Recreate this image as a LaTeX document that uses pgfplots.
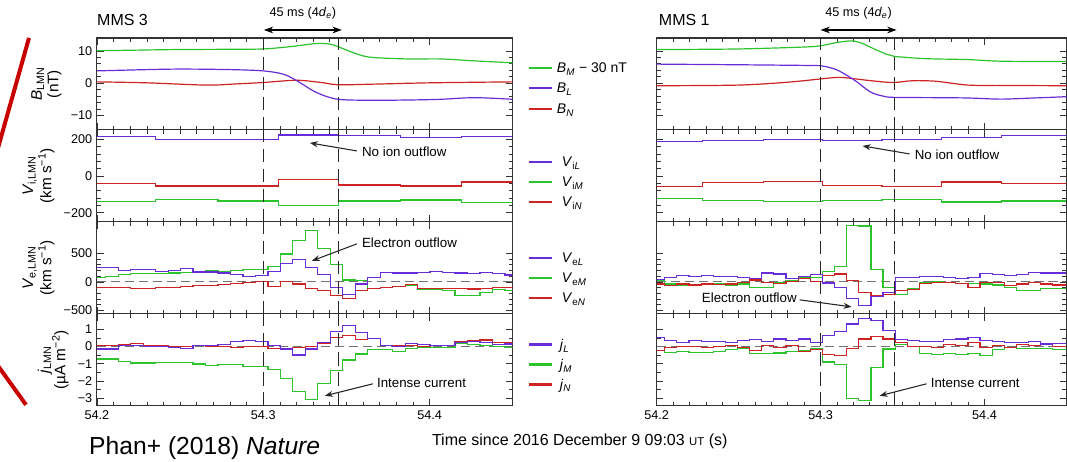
\documentclass[border=0pt]{standalone}
\usepackage{fontspec}
\setmainfont{Liberation Sans}
\usepackage{pgfplots}
\usepackage{pgfplotstable}
\pgfplotsset{compat=1.18}
\usetikzlibrary{arrows.meta}

\definecolor{cG}{RGB}{45,195,45}
\definecolor{cP}{RGB}{105,45,215}
\definecolor{cR}{RGB}{205,35,35}
\definecolor{cA}{RGB}{200,0,0}

\pgfplotstableread{
t L M N
54.2 214 -140 -40
54.2354 196 -127 -55
54.2728 200 -136 -55
54.3091 223 -160 -18
54.3454 218 -136 -49
54.3827 207 -131 -55
54.4191 214 -145 -33
54.45 214 -145 -33
}\LVi

\pgfplotstableread{
t L M N
54.2 185 -124 -58
54.228 191 -134 -36
54.265 200 -140 -31
54.301 194 -134 -51
54.3375 200 -127 -58
54.374 209 -142 -33
54.4105 218 -136 -40
54.45 218 -136 -40
}\RVi

\pgfplotstableread{
t L M N
54.2000 255 70 -94
54.2053 255 90 -94
54.2128 200 128 -94
54.2203 211 144 -122
54.2278 222 144 -122
54.2353 183 144 -105
54.2428 200 155 -94
54.2503 239 166 -83
54.2578 172 183 -67
54.2653 172 200 -67
54.2728 155 183 -50
54.2803 128 200 -28
54.2878 89 222 -11
54.2953 111 222 0
54.3028 183 266 -83
54.3103 322 488 0
54.3178 388 722 -39
54.3253 255 905 -122
54.3328 128 588 -150
54.3403 -94 311 -233
54.3478 -222 33 -289
54.3553 -39 17 -150
54.3628 72 -111 -122
54.3703 166 -105 -105
54.3778 155 -83 -83
54.3853 155 -67 -44
54.3928 166 -133 -120
54.4003 183 -133 -120
54.4078 166 -150 -110
54.4153 155 -233 -120
54.4228 144 -233 -125
54.4303 166 -189 -120
54.4378 150 -139 -100
54.4453 120 -150 -100
54.45 120 -150 -100
}\LVe

\pgfplotstableread{
t L M N
54.2000 -0.15 -0.73 0.08
54.2053 -0.15 -0.73 0.08
54.2128 0.04 -0.88 0.10
54.2203 0.08 -0.96 0.17
54.2278 -0.02 -0.96 0.08
54.2353 -0.02 -0.92 0.04
54.2428 -0.05 -0.92 0.00
54.2503 -0.12 -0.92 0.00
54.2578 0.08 -1.02 0.04
54.2653 0.04 -1.12 -0.02
54.2728 0.13 -1.06 -0.02
54.2803 0.27 -1.06 -0.06
54.2878 0.37 -1.15 0.00
54.2953 0.27 -1.15 0.00
54.3028 0.04 -1.35 -0.12
54.3103 -0.15 -1.85 -0.19
54.3178 -0.50 -2.62 -0.06
54.3253 -0.15 -3.08 0.00
54.3328 0.23 -2.13 0.19
54.3403 0.85 -1.40 0.52
54.3478 1.23 -0.79 0.65
54.3553 0.81 -0.44 0.42
54.3628 0.46 -0.19 0.46
54.3703 0.04 -0.19 0.04
54.3778 0.00 -0.31 0.04
54.3853 0.17 -0.12 0.04
54.3928 0.13 -0.08 0.00
54.4003 0.04 -0.05 0.04
54.4078 0.08 -0.05 0.08
54.4153 0.23 0.19 0.27
54.4228 0.27 0.13 0.33
54.4303 0.23 0.08 0.38
54.4378 0.12 0.00 0.23
54.4453 0.15 -0.05 0.20
54.45 0.15 -0.05 0.20
}\Lj

\pgfplotstableread{
t L M N
54.2000 44 17 -39
54.2049 72 -39 -67
54.2123 111 -55 -39
54.2197 89 -44 -55
54.2271 111 -22 -39
54.2345 100 -39 -50
54.2419 89 -55 -39
54.2493 72 -39 -11
54.2567 55 -94 33
54.2641 155 -94 -11
54.2715 139 -11 -22
54.2789 55 17 0
54.2863 100 72 55
54.2937 128 72 0
54.3011 -20 183 111
54.3085 -94 266 139
54.3159 -289 988 17
54.3233 -411 977 -189
54.3307 -250 222 -244
54.3381 -180 -94 -222
54.3455 72 -222 -150
54.3529 72 -122 -133
54.3603 89 -11 -22
54.3677 89 0 -11
54.3751 72 -11 -11
54.3825 55 -22 -28
54.3899 72 -22 -94
54.3973 144 -39 -11
54.4047 128 -55 -11
54.4121 111 -94 -67
54.4195 128 -150 -39
54.4269 166 -150 -11
54.4343 155 -122 -39
54.4417 155 -111 -55
54.45 155 -111 -55
}\RVe

\pgfplotstableread{
t L M N
54.2000 0.54 -0.23 -0.23
54.2049 0.35 -0.33 -0.04
54.2123 0.25 -0.29 0.00
54.2197 0.35 -0.33 0.02
54.2271 0.29 -0.33 -0.04
54.2345 0.29 -0.29 0.02
54.2419 0.25 -0.17 0.06
54.2493 0.35 -0.13 -0.04
54.2567 0.40 -0.42 -0.23
54.2641 0.29 -0.42 0.06
54.2715 0.44 -0.38 -0.04
54.2789 0.35 -0.29 0.06
54.2863 0.44 -0.23 -0.29
54.2937 0.21 -0.13 -0.17
54.3011 0.63 -0.90 -0.48
54.3085 0.87 -1.06 -0.52
54.3159 1.31 -3.02 -0.10
54.3233 1.65 -3.12 0.44
54.3307 1.50 -1.20 0.60
54.3381 0.92 -0.15 0.44
54.3455 0.40 0.10 0.25
54.3529 0.35 0.00 0.00
54.3603 0.29 -0.42 0.00
54.3677 0.29 -0.48 -0.04
54.3751 0.40 -0.42 0.10
54.3825 0.44 -0.48 0.06
54.3899 0.54 -0.42 0.21
54.3973 0.35 -0.52 -0.04
54.4047 0.29 -0.17 0.06
54.4121 0.25 -0.04 -0.04
54.4195 0.25 -0.10 0.10
54.4269 0.29 -0.13 0.06
54.4343 0.15 -0.10 0.10
54.4417 0.19 -0.17 0.00
54.45 0.19 -0.17 0.00
}\Rj

\pgfplotsset{
  panel/.style={
    scale only axis, height=69pt,
    xmin=54.2, xmax=54.45,
    xtick={54.2,54.3,54.4}, minor x tick num=9,
    xticklabels={},
    tick pos=both, tick align=inside,
    major tick length=5pt, minor tick length=3pt,
    axis line style={black!80, line width=0.8pt},
    every tick/.append style={black!80, line width=0.5pt},
    every minor tick/.append style={black!80, line width=0.5pt},
    tick label style={font=\fontsize{9.5}{10}\selectfont},
    ylabel style={align=center, font=\fontsize{11.5}{12.5}\selectfont},
    every axis plot/.append style={line width=0.9pt},
  },
  Lcol/.style={panel, width=312pt},
  Rcol/.style={panel, width=307.5pt, yticklabels={}},
  vdash/.style={black!85, dash pattern=on 10pt off 5pt, line width=0.7pt},
  zdash/.style={black!55, dash pattern=on 7pt off 3.5pt, line width=0.8pt},
}

\begin{document}
\begin{tikzpicture}
\path (0,0) rectangle (800.25pt,346.5pt);

% ---------------- LEFT COLUMN (MMS 3) ----------------
\begin{axis}[Lcol, at={(72.75pt,318pt)}, anchor=north west,
  ymin=-14.5, ymax=14, ytick={-10,0,10}, yticklabels={−10,0,10}, minor y tick num=4,
  ylabel={\textit{B}\textsubscript{LMN}\\(nT)}]
\addplot[cG, smooth] coordinates {(54.2,10.05) (54.22,10.2) (54.2455,10.4) (54.28,10.5) (54.3,10.6) (54.316,11.3) (54.332,12.3) (54.34,12.1) (54.345,11.3) (54.356,9.1) (54.365,8.0) (54.387,7.5) (54.407,7.5) (54.427,6.9) (54.45,6.3)};
\addplot[cR, smooth] coordinates {(54.2,0.4) (54.23,0.1) (54.266,-0.6) (54.285,-0.2) (54.3,0.2) (54.32,0.9) (54.335,0.2) (54.345,-0.5) (54.367,-0.3) (54.4,0.1) (54.45,0.4)};
\addplot[cP, smooth] coordinates {(54.2,3.8) (54.2455,4.35) (54.28,4.2) (54.3,3.8) (54.312,2.8) (54.32,0.8) (54.332,-2.9) (54.345,-5.0) (54.367,-5.3) (54.39,-5.2) (54.407,-5.0) (54.427,-4.5) (54.45,-5.0)};
\addplot[vdash] coordinates {(54.3,-14.5) (54.3,14)};
\addplot[vdash] coordinates {(54.345,-14.5) (54.345,14)};
\end{axis}

\begin{axis}[Lcol, at={(72.75pt,249pt)}, anchor=north west,
  ymin=-250, ymax=250, ytick={-200,0,200}, yticklabels={−200,0,200}, minor y tick num=4,
  ylabel={\textit{V}\textsubscript{i,LMN}\\(km s\textsuperscript{−1})}]
\addplot[cG, const plot mark left] table[x=t,y=M] {\LVi};
\addplot[cR, const plot mark left] table[x=t,y=N] {\LVi};
\addplot[cP, const plot mark left] table[x=t,y=L] {\LVi};
\addplot[vdash] coordinates {(54.3,-250) (54.3,250)};
\addplot[vdash] coordinates {(54.345,-250) (54.345,250)};
\end{axis}

\begin{axis}[Lcol, at={(72.75pt,180pt)}, anchor=north west,
  ymin=-560, ymax=1050, ytick={-500,0,500}, yticklabels={−500,0,500}, minor y tick num=4,
  ylabel={\textit{V}\textsubscript{e,LMN}\\(km s\textsuperscript{−1})}]
\addplot[zdash] coordinates {(54.2,0) (54.45,0)};
\addplot[cG, const plot mark left] table[x=t,y=M] {\LVe};
\addplot[cR, const plot mark left] table[x=t,y=N] {\LVe};
\addplot[cP, const plot mark left] table[x=t,y=L] {\LVe};
\addplot[vdash] coordinates {(54.3,-560) (54.3,1050)};
\addplot[vdash] coordinates {(54.345,-560) (54.345,1050)};
\end{axis}

\begin{axis}[Lcol, at={(72.75pt,111pt)}, anchor=north west,
  ymin=-3.45, ymax=1.9, ytick={-3,-2,-1,0,1}, yticklabels={−3,−2,−1,0,1}, minor y tick num=1,
  xticklabels={54.2,54.3,54.4},
  ylabel={\textit{j}\textsubscript{LMN}\\(µA m\textsuperscript{−2})}]
\addplot[zdash] coordinates {(54.2,0) (54.45,0)};
\addplot[cG, const plot mark left] table[x=t,y=M] {\Lj};
\addplot[cR, const plot mark left] table[x=t,y=N] {\Lj};
\addplot[cP, const plot mark left] table[x=t,y=L] {\Lj};
\addplot[vdash] coordinates {(54.3,-3.45) (54.3,1.9)};
\addplot[vdash] coordinates {(54.345,-3.45) (54.345,1.9)};
\end{axis}

% ---------------- RIGHT COLUMN (MMS 1) ----------------
\begin{axis}[Rcol, at={(492.75pt,318pt)}, anchor=north west,
  ymin=-14.5, ymax=14, ytick={-10,0,10}, minor y tick num=4]
\addplot[cG, smooth] coordinates {(54.2,10.4) (54.25,10.6) (54.29,11.2) (54.3,11.6) (54.31,12.6) (54.319,13.1) (54.325,12.4) (54.331,11.0) (54.34,9.0) (54.345,8.3) (54.36,7.7) (54.37,7.5) (54.39,7.3) (54.41,6.8) (54.445,6.7) (54.45,6.7)};
\addplot[cR, smooth] coordinates {(54.2,-0.8) (54.25,-0.6) (54.28,0.3) (54.3,1.3) (54.311,1.8) (54.32,1.4) (54.33,0.8) (54.344,0.2) (54.356,0.75) (54.37,0.6) (54.39,-0.6) (54.41,-0.7) (54.45,-0.8)};
\addplot[cP, smooth] coordinates {(54.2,5.9) (54.25,5.7) (54.29,5.5) (54.3,5.4) (54.31,4.1) (54.3207,0.9) (54.3306,-2.8) (54.338,-4.0) (54.3444,-4.4) (54.37,-4.5) (54.39,-4.6) (54.41,-4.95) (54.43,-4.6) (54.45,-4.2)};
\addplot[vdash] coordinates {(54.3,-14.5) (54.3,14)};
\addplot[vdash] coordinates {(54.345,-14.5) (54.345,14)};
\end{axis}

\begin{axis}[Rcol, at={(492.75pt,249pt)}, anchor=north west,
  ymin=-250, ymax=250, ytick={-200,0,200}, minor y tick num=4]
\addplot[cG, const plot mark left] table[x=t,y=M] {\RVi};
\addplot[cR, const plot mark left] table[x=t,y=N] {\RVi};
\addplot[cP, const plot mark left] table[x=t,y=L] {\RVi};
\addplot[vdash] coordinates {(54.3,-250) (54.3,250)};
\addplot[vdash] coordinates {(54.345,-250) (54.345,250)};
\end{axis}

\begin{axis}[Rcol, at={(492.75pt,180pt)}, anchor=north west,
  ymin=-560, ymax=1050, ytick={-500,0,500}, minor y tick num=4]
\addplot[zdash] coordinates {(54.2,0) (54.45,0)};
\addplot[cG, const plot mark left] table[x=t,y=M] {\RVe};
\addplot[cR, const plot mark left] table[x=t,y=N] {\RVe};
\addplot[cP, const plot mark left] table[x=t,y=L] {\RVe};
\addplot[vdash] coordinates {(54.3,-560) (54.3,1050)};
\addplot[vdash] coordinates {(54.345,-560) (54.345,1050)};
\end{axis}

\begin{axis}[Rcol, at={(492.75pt,111pt)}, anchor=north west,
  ymin=-3.45, ymax=1.9, ytick={-3,-2,-1,0,1}, minor y tick num=1,
  xticklabels={54.2,54.3,54.4}]
\addplot[zdash] coordinates {(54.2,0) (54.45,0)};
\addplot[cG, const plot mark left] table[x=t,y=M] {\Rj};
\addplot[cR, const plot mark left] table[x=t,y=N] {\Rj};
\addplot[cP, const plot mark left] table[x=t,y=L] {\Rj};
\addplot[vdash] coordinates {(54.3,-3.45) (54.3,1.9)};
\addplot[vdash] coordinates {(54.345,-3.45) (54.345,1.9)};
\end{axis}

% ---------------- annotations (pixel coordinates from top-left) ----------------
\begin{scope}
\clip (0,0) rectangle (800.25pt,346.5pt);
\begin{scope}[x=0.75pt, y=-0.75pt, shift={(0pt,346.5pt)}]
  \tikzset{ann/.style={font=\fontsize{10}{12}\selectfont, inner sep=0pt},
           arr/.style={-{Stealth[length=6pt,width=4.5pt]}, line width=0.8pt, black!85},
           leg/.style={line width=2pt},
           legt/.style={anchor=base west, inner sep=0pt, font=\fontsize{10.5}{12}\selectfont}}
  % red decorative strokes
  \draw[cA, line width=3pt] (29,38) -- (-2,148);
  \draw[cA, line width=3pt] (-2,366) -- (26,405);
  % titles
  \node[anchor=base west, inner sep=0pt, font=\fontsize{12}{14}\selectfont] at (97,26) {MMS 3};
  \node[anchor=base west, inner sep=0pt, font=\fontsize{12}{14}\selectfont] at (659,26) {MMS 1};
  \node[anchor=base, inner sep=0pt, font=\fontsize{9.5}{11}\selectfont] at (303,17) {45 ms (4\textit{d}\textsubscript{\textit{e}})};
  \node[anchor=base, inner sep=0pt, font=\fontsize{9.5}{11}\selectfont] at (859,17) {45 ms (4\textit{d}\textsubscript{\textit{e}})};
  \draw[{Stealth[length=7pt,width=5pt]}-{Stealth[length=7pt,width=5pt]}, line width=0.8pt] (264,30) -- (342,30);
  \draw[{Stealth[length=7pt,width=5pt]}-{Stealth[length=7pt,width=5pt]}, line width=0.8pt] (821,30) -- (897,30);
  % panel annotations
  \node[ann, anchor=west] at (362,152) {No ion outflow};
  \draw[arr] (357,151) -- (310,143);
  \node[ann, anchor=west] at (915,155) {No ion outflow};
  \draw[arr] (910,154) -- (863,146);
  \node[ann, anchor=west] at (362,243) {Electron outflow};
  \draw[arr] (357,244) -- (312,261);
  \node[ann, anchor=west] at (702,298) {Electron outflow};
  \draw[arr] (800,300) -- (852,307);
  \node[ann, anchor=west] at (377,383) {Intense current};
  \draw[arr] (373,384) -- (325,396);
  \node[ann, anchor=west] at (931,383) {Intense current};
  \draw[arr] (927,384) -- (880,396);
  % legends
  \draw[leg, cG] (529,68) -- (552,68);  \node[legt] at (557,73) {\textit{B}\textsubscript{\textit{M}} − 30 nT};
  \draw[leg, cP] (529,88) -- (552,88);  \node[legt] at (557,93) {\textit{B}\textsubscript{\textit{L}}};
  \draw[leg, cR] (529,109) -- (552,109); \node[legt] at (557,114) {\textit{B}\textsubscript{\textit{N}}};
  \draw[leg, cP] (529,162) -- (552,162); \node[legt] at (562,167) {\textit{V}\textsubscript{i\textit{L}}};
  \draw[leg, cG] (529,182) -- (552,182); \node[legt] at (562,187) {\textit{V}\textsubscript{i\textit{M}}};
  \draw[leg, cR] (529,202) -- (552,202); \node[legt] at (562,207) {\textit{V}\textsubscript{i\textit{N}}};
  \draw[leg, cP] (529,258) -- (552,258); \node[legt] at (562,263) {\textit{V}\textsubscript{e\textit{L}}};
  \draw[leg, cG] (529,278) -- (552,278); \node[legt] at (562,283) {\textit{V}\textsubscript{e\textit{M}}};
  \draw[leg, cR] (529,298) -- (552,298); \node[legt] at (562,303) {\textit{V}\textsubscript{e\textit{N}}};
  \draw[leg, cP] (529,345) -- (552,345); \node[legt] at (560,350) {\textit{j}\textsubscript{\textit{L}}};
  \draw[leg, cG] (529,365) -- (552,365); \node[legt] at (560,370) {\textit{j}\textsubscript{\textit{M}}};
  \draw[leg, cR] (529,385) -- (552,385); \node[legt] at (560,390) {\textit{j}\textsubscript{\textit{N}}};
  % bottom texts
  \node[anchor=base west, inner sep=0pt, font=\fontsize{12}{14}\selectfont] at (432,446)
    {Time since 2016 December 9 09:03 {\fontsize{8.5}{10}\selectfont UT} (s)};
  \node[anchor=base west, inner sep=0pt, font=\fontsize{18.5}{21}\selectfont] at (89,455)
    {Phan+ (2018) \textit{Nature}};
\end{scope}
\end{scope}
\end{tikzpicture}
\end{document}
